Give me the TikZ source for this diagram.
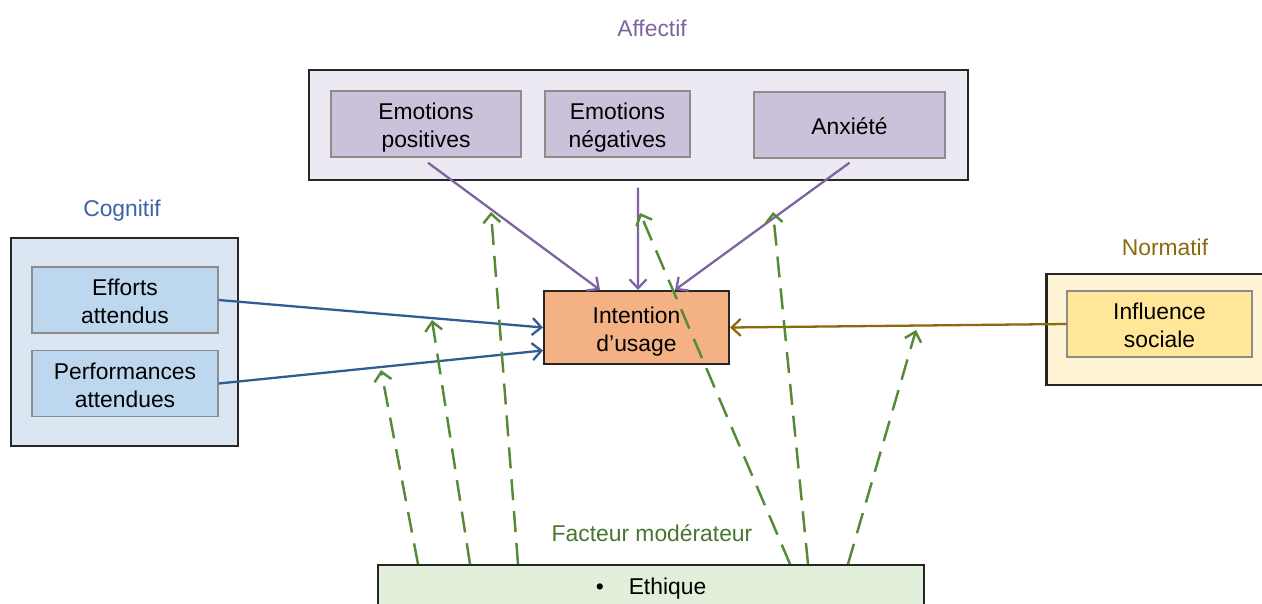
\documentclass[tikz,border=0pt]{standalone}
\usepackage{fontspec}
\setmainfont{Liberation Sans}
\usetikzlibrary{arrows.meta}
\definecolor{affcol}{HTML}{7F62A1}
\definecolor{affbg}{HTML}{EDE9F2}
\definecolor{affbox}{HTML}{CCC1DA}
\definecolor{cogcol}{HTML}{2F5D92}
\definecolor{coglbl}{HTML}{3A64A8}
\definecolor{cogbg}{HTML}{DCE6F2}
\definecolor{cogbox}{HTML}{BDD7EE}
\definecolor{normcol}{HTML}{8A6A0C}
\definecolor{normbg}{HTML}{FFF3D6}
\definecolor{normbox}{HTML}{FFE699}
\definecolor{intbox}{HTML}{F4B183}
\definecolor{modcol}{HTML}{558A37}
\definecolor{modbg}{HTML}{E2EFDA}

\begin{document}
\begin{tikzpicture}[font=\fontsize{13}{16}\selectfont,
  grp/.style={draw=black!85, line width=1.2pt, inner sep=0pt},
  item/.style={draw=black!45, line width=0.8pt, align=center, minimum height=1.32cm, inner sep=0pt, text height=29pt, text depth=2pt},
  arr/.style={line width=1.3pt, -{Straight Barb[length=1.8mm,width=3.4mm]}},
  mod/.style={arr, draw=modcol, line width=1.4pt, dash pattern=on 0.42cm off 0.22cm}]
\useasboundingbox (0,0) rectangle (25.24,-12.06);

\node[grp, fill=affbg, minimum width=13.18cm, minimum height=2.2cm] at (12.77,-2.5) (aff) {};
\node[text=affcol] at (13.04,-0.56) {Affectif};
\node[item, fill=affbox, minimum width=3.8cm] at (8.52,-2.48) (pos) {Emotions\\positives};
\node[item, fill=affbox, minimum width=2.9cm] at (12.35,-2.48) (neg) {Emotions\\négatives};
\node[item, fill=affbox, minimum width=3.82cm, text height=13pt] at (16.99,-2.5) (anx) {Anxiété};

\node[grp, fill=cogbg, minimum width=4.54cm, minimum height=4.16cm] at (2.49,-6.84) (cog) {};
\node[text=coglbl] at (2.44,-4.22) {Cognitif};
\node[item, fill=cogbox, minimum width=3.72cm] at (2.5,-6.0) (eff) {Efforts\\attendus};
\node[item, fill=cogbox, minimum width=3.72cm] at (2.5,-7.67) (perf) {Performances\\attendues};

\node[grp, fill=normbg, minimum width=4.66cm, minimum height=2.22cm] at (23.26,-6.59) (norm) {};
\node[text=normcol] at (23.3,-4.94) {Normatif};
\node[item, fill=normbox, minimum width=3.7cm] at (23.19,-6.48) (inf) {Influence\\sociale};

\node[grp, fill=intbox, align=center, minimum width=3.7cm, minimum height=1.46cm, text height=29pt, text depth=2pt] at (12.73,-6.55) (int) {Intention\\d’usage};

\node[text=modcol!85!black] at (13.04,-10.66) {Facteur modérateur};
\node[grp, fill=modbg, anchor=north, minimum width=10.92cm, minimum height=0.95cm] at (13.02,-11.28) (eth) {\textbullet\hspace{0.5cm}Ethique};

\coordinate (m1) at (7.62,-7.4);
\coordinate (m2) at (8.64,-6.4);
\coordinate (m3) at (9.82,-4.24);
\coordinate (m4) at (12.8,-4.26);
\coordinate (m5) at (15.46,-4.24);
\coordinate (m6) at (18.32,-6.6);

\draw[arr, affcol] ([xshift=0.04cm,yshift=-0.1cm]pos.south) -- ([xshift=-0.73cm]int.north);
\draw[arr, affcol] ([xshift=0.41cm,yshift=-0.6cm]neg.south) -- ([xshift=0.03cm]int.north);
\draw[arr, affcol] ([yshift=-0.08cm]anx.south) -- ([xshift=0.77cm]int.north);

\draw[arr, cogcol] (eff.east) -- (int.west);
\draw[arr, cogcol] (perf.east) -- ([yshift=-0.46cm]int.west);
\draw[arr, normcol] (inf.west) -- (int.east);

\draw[mod] ([xshift=-4.66cm]eth.north) -- (m1);
\draw[mod] ([xshift=-3.62cm]eth.north) -- (m2);
\draw[mod] ([xshift=-2.66cm]eth.north) -- (m3);
\draw[mod] ([xshift=2.78cm]eth.north) -- (m4);
\draw[mod] ([xshift=3.14cm]eth.north) -- (m5);
\draw[mod] ([xshift=3.94cm]eth.north) -- (m6);
\end{tikzpicture}
\end{document}
